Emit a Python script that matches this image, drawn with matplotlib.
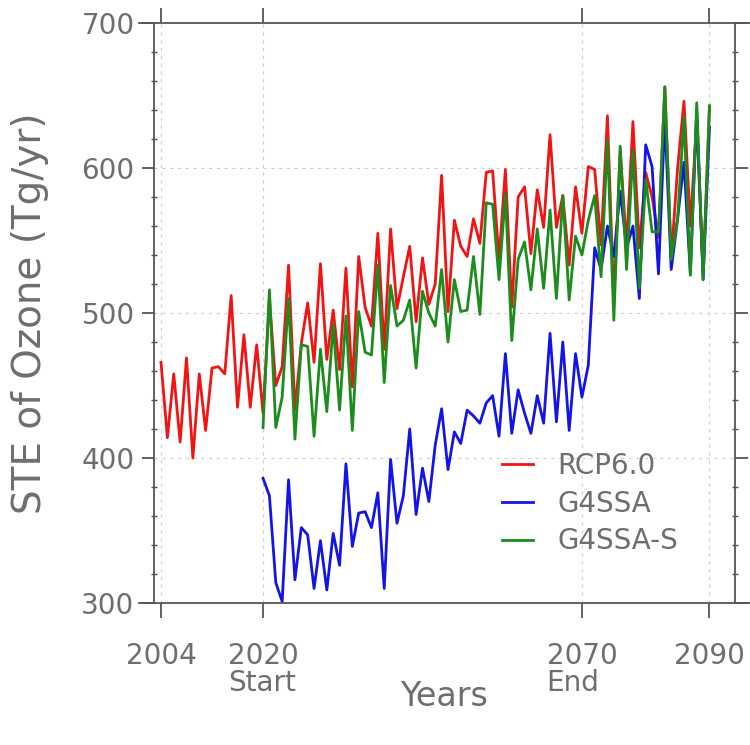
import numpy as np
import matplotlib.pyplot as plt

# ============================================
# DATOS
# ============================================
years_rcp = list(range(2004, 2091))
years_g4 = list(range(2020, 2091))

rcp60 = [466, 414, 458, 411, 469, 400, 458, 419, 462, 463,
         458, 512, 435, 485, 435, 478, 431, 510, 450, 463,
         533, 433, 479, 507, 466, 534, 468, 502, 461, 531,
         449, 539, 504, 491, 555, 475, 558, 503, 525, 546,
         494, 538, 506, 520, 595, 501, 564, 546, 539, 565,
         548, 597, 598, 537, 599, 504, 580, 587, 541, 585,
         559, 623, 559, 581, 533, 587, 555, 601, 599, 547,
         636, 508, 612, 546, 632, 545, 597, 580, 552, 656,
         537, 600, 646, 560, 632, 528, 642]

g4ssa = [386, 374, 314, 301, 385, 316, 352, 347, 310, 343,
         309, 348, 326, 396, 339, 362, 363, 352, 376, 310,
         399, 355, 374, 420, 361, 393, 370, 409, 434, 392,
         418, 410, 433, 429, 424, 438, 443, 415, 472, 417,
         447, 431, 417, 443, 424, 486, 425, 480, 419, 472,
         442, 464, 545, 530, 560, 539, 584, 545, 560, 510,
         616, 601, 527, 635, 530, 565, 604, 527, 640, 523,
         628]

g4ssa_s = [421, 516, 421, 442, 510, 413, 478, 477, 415, 475,
           432, 492, 433, 498, 419, 501, 473, 471, 533, 452,
           519, 491, 495, 509, 462, 515, 500, 491, 530, 480,
           523, 501, 502, 539, 499, 576, 575, 523, 582, 481,
           537, 549, 516, 558, 517, 571, 510, 581, 509, 553,
           540, 564, 581, 525, 619, 495, 615, 530, 612, 517,
           592, 556, 556, 656, 537, 565, 635, 526, 645, 523,
           643]

labels = ['RCP6.0', 'G4SSA', 'G4SSA-S']
colors = ['#f01414', '#1414e6', '#1c8c1c']

xtick_pos = [2004, 2020, 2070, 2090]
xtick_lab = ['2004', '2020\nStart', '2070\nEnd', '2090']
ytick_pos = [300, 400, 500, 600, 700]

gris = '#6e6e6e'
eje = '#555555'

# ============================================
# FIGURA
# ============================================
fig = plt.figure(figsize=(7.5, 7.45), dpi=100)
ax = fig.add_axes([0.2053, 0.1906, 0.7747, 0.7785])

ax.plot(years_rcp, rcp60, color=colors[0], lw=2.0, label=labels[0], zorder=3)
ax.plot(years_g4, g4ssa, color=colors[1], lw=2.0, label=labels[1], zorder=4)
ax.plot(years_g4, g4ssa_s, color=colors[2], lw=2.0, label=labels[2], zorder=5)

ax.set_xlim(2002.9, 2094.0)
ax.set_ylim(300, 700)

# rejilla punteada
for x in xtick_pos:
    ax.axvline(x, color='#d0d0d0', lw=0.8, ls=(0, (3, 4)), zorder=1)
for y in ytick_pos[1:-1]:
    ax.axhline(y, color='#d0d0d0', lw=0.8, ls=(0, (3, 4)), zorder=1)

# marco
for s in ['top', 'bottom']:
    ax.spines[s].set_visible(False)
for s in ['left', 'right']:
    ax.spines[s].set_color(eje)
    ax.spines[s].set_linewidth(1.3)
for yy in [0, 1]:
    ax.plot([-0.025, 1.026], [yy, yy], transform=ax.transAxes, color=eje,
            lw=1.3, clip_on=False, zorder=6)

ax.set_xticks(xtick_pos)
ax.set_xticklabels(xtick_lab, fontsize=20, color=gris, linespacing=0.95)
for t in ax.get_xticklabels():
    t.set_multialignment('left')
ax.tick_params(axis='x', which='major', direction='out', length=11, width=1.3,
               color=eje, pad=17, top=True)
ax.set_yticks(ytick_pos)
ax.set_yticklabels([str(v) for v in ytick_pos], fontsize=20, color=gris)
ax.set_yticks(np.arange(300, 701, 20), minor=True)
ax.tick_params(axis='y', which='major', direction='out', length=9, width=1.3,
               color=eje, pad=5, right=True)
ax.tick_params(axis='y', which='minor', direction='inout', length=5, width=1.0,
               color=eje, right=True)

fig.text(444.5 / 750, 1 - 696 / 745, 'Years', fontsize=24, color=gris,
         ha='center', va='center')
fig.text(30 / 750, 1 - 313 / 745, 'STE of Ozone (Tg/yr)', fontsize=28,
         color=gris, ha='center', va='center', rotation=90)

ax.legend(loc='upper left', bbox_to_anchor=(502 / 750, 1 - 452 / 745),
          bbox_transform=fig.transFigure, frameon=False, fontsize=20,
          handlelength=1.1, handletextpad=0.9, labelspacing=0.35,
          borderpad=0, borderaxespad=0, labelcolor=gris)

fig.savefig('out.png', dpi=100)
